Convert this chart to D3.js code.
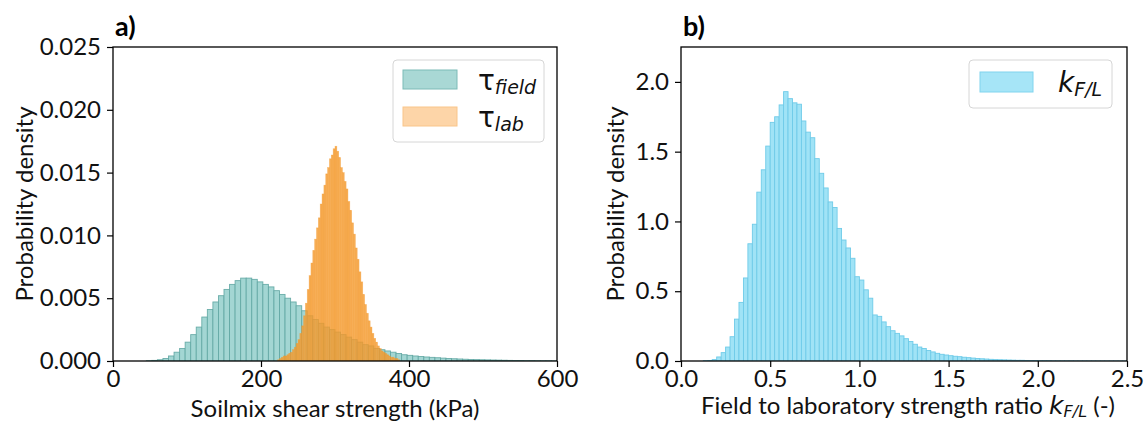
<!DOCTYPE html>
<html>
<head>
<meta charset="utf-8">
<script src="https://cdn.jsdelivr.net/npm/d3@7"></script>
<style>
  html, body { margin: 0; padding: 0; background: #fff; }
  svg { display: block; }
  .tick text { font-family: Lato, "Open Sans", sans-serif; }
</style>
</head>
<body>
<svg id="fig" width="1144" height="425"></svg>
<script>
// ---- Panel a: soilmix shear strength histograms (density) ----
const fieldBinStart = 45;      // kPa
const fieldBinWidth = 7.5;     // kPa
const fieldDensity = [
  0.00002, 0.00005, 0.0001, 0.0002, 0.0004, 0.0007, 0.0010, 0.0015, 0.0021, 0.0027,
  0.0035, 0.0041, 0.0047, 0.0052, 0.0057, 0.0061, 0.0064, 0.0066, 0.0066, 0.0065,
  0.0063, 0.0061, 0.0059, 0.0056, 0.0053, 0.0050, 0.0047, 0.0044, 0.0040, 0.0036,
  0.0033, 0.0030, 0.0027, 0.0025, 0.0023, 0.0021, 0.0019, 0.0017, 0.0015, 0.0013,
  0.0012, 0.0010, 0.0009, 0.0008, 0.0007, 0.0006, 0.0005, 0.00045, 0.0004, 0.00036,
  0.00032, 0.00029, 0.00026, 0.00023, 0.0002, 0.00018, 0.00016, 0.00014, 0.00012, 0.00011,
  0.0001, 0.00009, 0.00008, 0.00007, 0.00006, 0.00005, 0.00004, 0.00004, 0.00003, 0.00003,
  0.00002, 0.00002, 0.00002, 0.00001
];

const labBinStart = 222.5;     // kPa
const labBinWidth = 2.5;       // kPa
const labDensity = [
  0.0001, 0.0002, 0.0003, 0.0004, 0.0004, 0.0005, 0.0006, 0.0007, 0.0009, 0.0011,
  0.0014, 0.0017, 0.0022, 0.0028, 0.0036, 0.0046, 0.0057, 0.0068, 0.0078, 0.0088,
  0.0097, 0.0106, 0.0114, 0.0125, 0.0133, 0.0140, 0.0149, 0.0154, 0.0161, 0.0164,
  0.0169, 0.0171, 0.0167, 0.0162, 0.0154, 0.0150, 0.0143, 0.0137, 0.0127, 0.0120,
  0.0110, 0.0101, 0.0090, 0.0081, 0.0071, 0.0063, 0.0053, 0.0045, 0.0038, 0.0032,
  0.0027, 0.0022, 0.0018, 0.0015, 0.0012, 0.0010, 0.0008, 0.0007, 0.0006, 0.0005,
  0.0004, 0.0003, 0.0003, 0.0002, 0.0002, 0.0001
];

const strengthTicks = [0, 200, 400, 600];
const strengthDensityTicks = [0, 0.005, 0.010, 0.015, 0.020, 0.025];

// ---- Panel b: field-to-laboratory strength ratio histogram (density) ----
const ratioBinStart = 0.125;
const ratioBinWidth = 0.025;
const ratioDensity = [
  0.002, 0.004, 0.010, 0.029, 0.060, 0.100, 0.174, 0.300, 0.420, 0.595,
  0.840, 0.980, 1.210, 1.370, 1.540, 1.710, 1.750, 1.835, 1.930, 1.880,
  1.850, 1.840, 1.720, 1.640, 1.600, 1.450, 1.345, 1.240, 1.140, 1.100,
  0.950, 0.867, 0.810, 0.736, 0.604, 0.580, 0.510, 0.450, 0.330, 0.320,
  0.280, 0.246, 0.217, 0.198, 0.180, 0.160, 0.140, 0.120, 0.100, 0.090,
  0.075, 0.065, 0.055, 0.048, 0.043, 0.038, 0.034, 0.031, 0.027, 0.024,
  0.021, 0.018, 0.016, 0.014, 0.012, 0.010, 0.009, 0.008, 0.007, 0.006,
  0.005, 0.005, 0.004, 0.003, 0.003, 0.002, 0.002, 0.002, 0.001, 0.001,
  0.001, 0.001, 0.001, 0.0005, 0.0005, 0.0005, 0.0004, 0.0004, 0.0003, 0.0003,
  0.0002, 0.0002, 0.0002, 0.0001, 0.0001
];

const ratioTicks = [0, 0.5, 1.0, 1.5, 2.0, 2.5];
const ratioDensityTicks = [0, 0.5, 1.0, 1.5, 2.0];

// ---- helpers ----
const svg = d3.select("#fig");
const FONT = "Lato, 'Open Sans', sans-serif";
const MATH = "'DejaVu Sans', sans-serif";

function toBins(start, width, values) {
  return values.map((v, i) => ({ x0: start + i * width, x1: start + (i + 1) * width, v }));
}

function drawPanel(opts) {
  const { left, right, top, bottom, xDomain, yDomain, xTicks, yTicks, xFmt, yFmt, id } = opts;
  const x = d3.scaleLinear().domain(xDomain).range([left, right]);
  const y = d3.scaleLinear().domain(yDomain).range([bottom, top]);

  const clipId = "clip-" + id;
  svg.append("clipPath").attr("id", clipId)
    .append("rect").attr("x", left).attr("y", top)
    .attr("width", right - left).attr("height", bottom - top);

  const plot = svg.append("g").attr("clip-path", `url(#${clipId})`);

  opts.series.forEach(s => {
    plot.append("g").selectAll("rect")
      .data(toBins(s.start, s.width, s.values))
      .join("rect")
      .attr("x", d => x(d.x0))
      .attr("width", d => x(d.x1) - x(d.x0))
      .attr("y", d => y(d.v))
      .attr("height", d => y(0) - y(d.v))
      .attr("fill", s.fill)
      .attr("fill-opacity", s.fillOpacity)
      .attr("stroke", s.stroke)
      .attr("stroke-opacity", s.strokeOpacity)
      .attr("stroke-width", s.strokeWidth);
  });

  // axes
  const xAxis = d3.axisBottom(x).tickValues(xTicks).tickFormat(xFmt).tickSizeOuter(0).tickSize(6).tickPadding(3);
  const yAxis = d3.axisLeft(y).tickValues(yTicks).tickFormat(yFmt).tickSizeOuter(0).tickSize(6).tickPadding(6);

  const gx = svg.append("g").attr("transform", `translate(0,${bottom})`).call(xAxis);
  const gy = svg.append("g").attr("transform", `translate(${left},0)`).call(yAxis);
  [gx, gy].forEach(g => {
    g.select(".domain").remove();
    g.selectAll(".tick line").attr("stroke", "#000").attr("stroke-width", 1.2);
    g.selectAll(".tick text").attr("fill", "#111").style("font-size", "24px").style("font-family", FONT);
  });

  // frame
  svg.append("rect")
    .attr("x", left).attr("y", top)
    .attr("width", right - left).attr("height", bottom - top)
    .attr("fill", "none").attr("stroke", "#000").attr("stroke-width", 1.3);

  // panel letter
  svg.append("text")
    .attr("x", left + 2).attr("y", top - 11)
    .attr("font-family", FONT).attr("font-weight", "bold").attr("font-size", 27)
    .attr("fill", "#000")
    .text(opts.letter);

  // y label
  svg.append("text")
    .attr("transform", `translate(${opts.yLabelX},${(top + bottom) / 2}) rotate(-90)`)
    .attr("text-anchor", "middle")
    .attr("font-family", FONT).attr("font-size", 24).attr("fill", "#111")
    .text("Probability density");

  return { x, y };
}

// ---- Panel a ----
drawPanel({
  id: "a", letter: "a)",
  left: 113, right: 557, top: 47, bottom: 361,
  xDomain: [0, 600], yDomain: [0, 0.025],
  xTicks: strengthTicks, yTicks: strengthDensityTicks,
  xFmt: d3.format("d"), yFmt: d3.format(".3f"),
  yLabelX: 33,
  series: [
    { start: fieldBinStart, width: fieldBinWidth, values: fieldDensity,
      fill: "#a3d6d3", fillOpacity: 1, stroke: "#5fa6a2", strokeOpacity: 0.9, strokeWidth: 0.9 },
    { start: labBinStart, width: labBinWidth, values: labDensity,
      fill: "#f59a2c", fillOpacity: 0.8, stroke: "#f59a2c", strokeOpacity: 0.5, strokeWidth: 0.6 }
  ]
});

// x label a
svg.append("text")
  .attr("x", (113 + 557) / 2).attr("y", 417)
  .attr("text-anchor", "middle")
  .attr("font-family", FONT).attr("font-size", 24).attr("fill", "#111")
  .text("Soilmix shear strength (kPa)");

// legend a
{
  const g = svg.append("g");
  g.append("rect").attr("x", 393).attr("y", 60).attr("width", 151).attr("height", 82)
    .attr("rx", 4).attr("fill", "#fff").attr("fill-opacity", 0.8)
    .attr("stroke", "#d6d6d6").attr("stroke-width", 1);
  g.append("rect").attr("x", 403).attr("y", 70).attr("width", 54).attr("height", 19)
    .attr("fill", "#a9d8d5").attr("stroke", "#7dbbb7").attr("stroke-width", 1);
  g.append("rect").attr("x", 403).attr("y", 107).attr("width", 54).attr("height", 19)
    .attr("fill", "#fdd5a8").attr("stroke", "#f9c58a").attr("stroke-width", 1);

  const t1 = g.append("text").attr("x", 478).attr("y", 90)
    .attr("font-family", MATH).attr("font-size", 28).attr("fill", "#111");
  t1.append("tspan").text("τ");
  t1.append("tspan").attr("dy", 4).attr("font-size", 19).attr("font-style", "italic").text("field");

  const t2 = g.append("text").attr("x", 478).attr("y", 127)
    .attr("font-family", MATH).attr("font-size", 28).attr("fill", "#111");
  t2.append("tspan").text("τ");
  t2.append("tspan").attr("dy", 4).attr("font-size", 19).attr("font-style", "italic").text("lab");
}

// ---- Panel b ----
drawPanel({
  id: "b", letter: "b)",
  left: 681, right: 1127, top: 47, bottom: 361,
  xDomain: [0, 2.5], yDomain: [0, 2.25],
  xTicks: ratioTicks, yTicks: ratioDensityTicks,
  xFmt: d3.format(".1f"), yFmt: d3.format(".1f"),
  yLabelX: 624,
  series: [
    { start: ratioBinStart, width: ratioBinWidth, values: ratioDensity,
      fill: "#a0e3f6", fillOpacity: 1, stroke: "#6fcbe8", strokeOpacity: 1, strokeWidth: 0.9 }
  ]
});

// x label b
{
  const t = svg.append("text")
    .attr("x", (681 + 1127) / 2 + 4).attr("y", 414)
    .attr("text-anchor", "middle")
    .attr("font-family", FONT).attr("font-size", 24).attr("fill", "#111");
  t.append("tspan").text("Field to laboratory strength ratio ");
  t.append("tspan").attr("font-family", MATH).attr("font-style", "italic").attr("font-size", 25).text("k");
  t.append("tspan").attr("font-family", MATH).attr("font-style", "italic")
    .attr("font-size", 16).attr("dy", 3).text("F/L");
  t.append("tspan").attr("dy", -3).text(" (-)");
}

// legend b
{
  const g = svg.append("g");
  g.append("rect").attr("x", 969).attr("y", 60).attr("width", 143).attr("height", 48)
    .attr("rx", 4).attr("fill", "#fff").attr("fill-opacity", 0.8)
    .attr("stroke", "#d6d6d6").attr("stroke-width", 1);
  g.append("rect").attr("x", 980).attr("y", 72).attr("width", 53).attr("height", 20)
    .attr("fill", "#a6e5f7").attr("stroke", "#80d4ee").attr("stroke-width", 1);
  const t = g.append("text").attr("x", 1058).attr("y", 92)
    .attr("font-family", MATH).attr("font-size", 28).attr("fill", "#111");
  t.append("tspan").attr("font-style", "italic").text("k");
  t.append("tspan").attr("dy", 4).attr("font-size", 19).attr("font-style", "italic").text("F/L");
}
</script>
</body>
</html>
